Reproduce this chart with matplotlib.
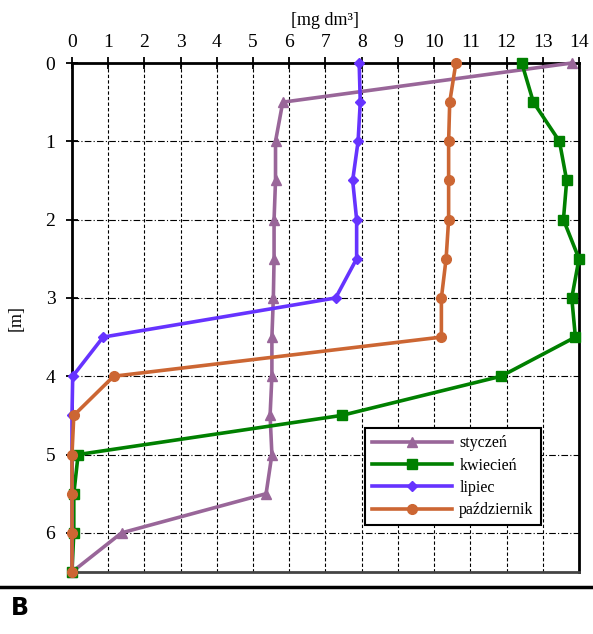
import matplotlib.pyplot as plt
from matplotlib.lines import Line2D

# --- dane: glebokosc [m] i stezenie [mg dm-3] ---
depth = [0, 0.5, 1, 1.5, 2, 2.5, 3, 3.5, 4, 4.5, 5, 5.5, 6, 6.5]
styczen = [13.8, 5.82, 5.62, 5.62, 5.58, 5.58, 5.56, 5.52, 5.52, 5.47, 5.52, 5.36, 1.37, 0.0]
kwiecien = [12.42, 12.74, 13.46, 13.66, 13.57, 14.0, 13.8, 13.9, 11.85, 7.45, 0.17, 0.05, 0.05, 0.0]
lipiec = [7.93, 7.96, 7.9, 7.75, 7.86, 7.86, 7.28, 0.86, 0.02, 0.0, 0.0, 0.0, 0.0, 0.0]
pazdziernik = [10.6, 10.43, 10.4, 10.4, 10.4, 10.33, 10.2, 10.2, 1.15, 0.05, 0.0, 0.0, 0.0, 0.0]

x_ticks = list(range(0, 15))
y_ticks = list(range(0, 7))

plt.rcParams['font.family'] = ['Liberation Serif', 'DejaVu Serif']

fig = plt.figure(figsize=(5.93, 6.34), dpi=100)
ax = fig.add_axes([0.1214, 0.0978, 0.855, 0.8028])

series = [
    (styczen, 'styczeń', '#996699', '^', 7.5),
    (kwiecien, 'kwiecień', '#008000', 's', 7.5),
    (lipiec, 'lipiec', '#6633ff', 'D', 5.5),
    (pazdziernik, 'październik', '#cc6633', 'o', 7),
]
for vals, name, col, mk, ms in series:
    ax.plot(vals, depth, color=col, lw=2.6, marker=mk, ms=ms, label=name,
            clip_on=False, zorder=3)

ax.set_xlim(0, 14)
ax.set_ylim(6.5, 0)
ax.xaxis.tick_top()
ax.xaxis.set_label_position('top')
ax.set_xticks(x_ticks)
ax.set_yticks(y_ticks)
ax.tick_params(axis='both', direction='inout', length=8, width=1.3,
               labelsize=14)
ax.tick_params(axis='x', pad=5)
ax.tick_params(axis='y', pad=8)
ax.set_xlabel('[mg dm³]', fontsize=13, labelpad=6)
ax.set_ylabel('[m]', fontsize=13, labelpad=15)

# siatka
for xv in x_ticks[1:-1]:
    ax.axvline(xv, color='black', lw=0.8, ls=(0, (3, 2)), zorder=1)
for yv in y_ticks[1:]:
    ax.axhline(yv, color='black', lw=0.8, ls=(0, (6, 2, 1, 2)), zorder=1)

for s in ['left', 'top', 'right']:
    ax.spines[s].set_linewidth(2)
ax.spines['bottom'].set_linewidth(2)
ax.spines['bottom'].set_color('#444444')

leg = ax.legend(loc='upper left', bbox_to_anchor=(0.578, 0.283),
                fontsize=11.5, handlelength=5.0, handletextpad=0.45,
                fancybox=False, framealpha=1, edgecolor='black',
                borderaxespad=0, borderpad=0.45, labelspacing=0.4)
leg.get_frame().set_linewidth(1.5)

# linia oddzielajaca i litera B
fig.add_artist(Line2D([0, 1], [1 - 587 / 634, 1 - 587 / 634], color='black',
                      lw=2.5, transform=fig.transFigure))
fig.text(0.018, 1 - 608 / 634, 'B', fontsize=17, fontweight='bold',
         family='DejaVu Sans', va='center', ha='left')

fig.savefig('out.png', dpi=100)
